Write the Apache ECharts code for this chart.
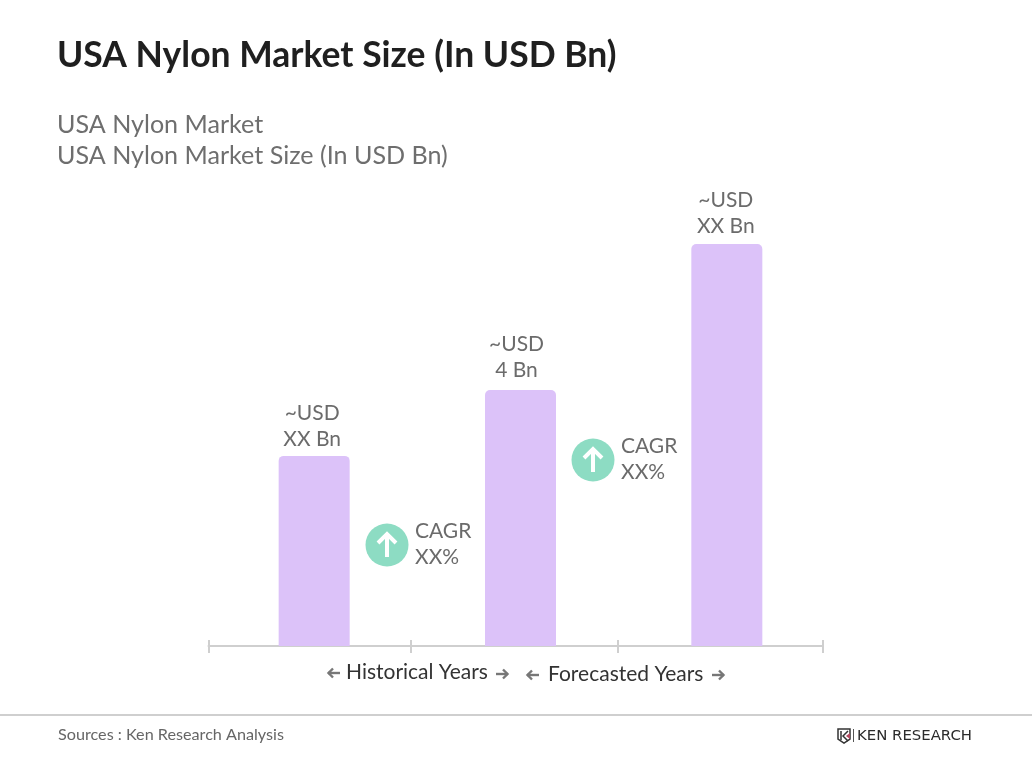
<!DOCTYPE html>
<html>
<head>
<meta charset="utf-8">
<style>html,body{margin:0;padding:0;background:#fff}#main{width:1032px;height:774px}</style>
<script src="https://cdn.jsdelivr.net/npm/echarts@6/dist/echarts.min.js"></script>
</head>
<body>
<div id="main"></div>
<script>
var categories = ['A', 'B', 'C'];
var values = [2.97, 4, 6.28];
var barLabels = ['~USD\nXX Bn', '~USD\n4 Bn', '~USD\nXX Bn'];
var cagrLabels = ['CAGR\nXX%', 'CAGR\nXX%'];
var tickStops = [0, 202.5, 409, 614.5];

var FONT = 'Lato, "Open Sans", sans-serif';
var chart = echarts.init(document.getElementById('main'), null, { renderer: 'canvas' });

// labels do not sit exactly centred over the bars in the original
var labelOffsets = [[-2, 3], [-4, 0], [-1, 2]];

// arrow-up badge next to the bars
function cagrBadge(cx, cy, label) {
    return [
        { type: 'circle', shape: { cx: cx, cy: cy, r: 21.5 }, style: { fill: '#8ddcc3' } },
        { type: 'polyline', shape: { points: [[cx, cy + 12], [cx, cy - 11]] }, style: { stroke: '#fff', lineWidth: 4, fill: null } },
        { type: 'polyline', shape: { points: [[cx - 9, cy - 2], [cx, cy - 11], [cx + 9, cy - 2]] }, style: { stroke: '#fff', lineWidth: 4, fill: null } },
        { type: 'text', x: cx + 28, y: cy - 27, style: { text: label, font: '21px ' + FONT, fill: '#6b6b6b', lineHeight: 26 } }
    ];
}

function flatText(x, y, text, font, color) {
    return { type: 'text', x: x, y: y, style: { text: text, font: font, fill: color, textVerticalAlign: 'middle' } };
}

// small grey arrow, dir -1 points left and 1 points right
function arrow(cx, y, dir) {
    return [
        { type: 'line', shape: { x1: cx - 6, y1: y, x2: cx + 6, y2: y }, style: { stroke: '#777', lineWidth: 2.4 } },
        { type: 'polyline', shape: { points: [[cx + dir * 1, y - 4.5], [cx + dir * 5.5, y], [cx + dir * 1, y + 4.5]] }, style: { stroke: '#777', lineWidth: 2.4, fill: null } }
    ];
}

var graphics = [
    flatText(57, 56, 'USA Nylon Market Size (In USD Bn)', 'bold 35.5px ' + FONT, '#1f1f1f'),
    flatText(57, 125, 'USA Nylon Market', '25.1px ' + FONT, '#6e6e6e'),
    flatText(57, 156, 'USA Nylon Market Size (In USD Bn)', '25.1px ' + FONT, '#6e6e6e'),
    flatText(346, 672, 'Historical Years', '21px ' + FONT, '#333'),
    flatText(548, 674, 'Forecasted Years', '21px ' + FONT, '#333'),
    { type: 'rect', shape: { x: 0, y: 714, width: 1032, height: 2 }, style: { fill: '#cfcfcf' } },
    flatText(58, 735, 'Sources : Ken Research Analysis', '16.2px ' + FONT, '#666'),
    // logo
    { type: 'polygon', shape: { points: [[838, 729], [850, 729], [850, 739], [844, 743], [838, 739]] }, style: { fill: '#fff', stroke: '#333', lineWidth: 1.5 } },
    { type: 'polyline', shape: { points: [[841, 731], [841, 740]] }, style: { stroke: '#333', lineWidth: 1.5, fill: null } },
    { type: 'polyline', shape: { points: [[848, 731], [843, 736], [848, 741]] }, style: { stroke: '#333', lineWidth: 1.5, fill: null } },
    { type: 'polygon', shape: { points: [[850, 733], [846, 736], [850, 739]] }, style: { fill: '#b5475f' } },
    { type: 'rect', shape: { x: 853, y: 729, width: 1, height: 13 }, style: { fill: '#555' } },
    flatText(857, 736, 'KEN RESEARCH', '14.9px "DejaVu Sans"', '#2b2b2b')
];
graphics = graphics.concat(
    arrow(334, 673, -1), arrow(502, 674, 1), arrow(533, 675, -1), arrow(718, 675, 1),
    cagrBadge(387, 545, cagrLabels[0]), cagrBadge(593, 460, cagrLabels[1])
);

function tickAxis(inside, len, lineShown) {
    return {
        type: 'value', gridIndex: 0, position: 'bottom', min: 0, max: 614.5,
        splitLine: { show: false },
        axisLine: { show: lineShown, lineStyle: { color: '#cfcfcf', width: 2 } },
        axisTick: { show: true, inside: inside, length: len, customValues: tickStops, lineStyle: { color: '#cfcfcf', width: 2 } },
        axisLabel: { show: true, customValues: tickStops, color: 'transparent', fontSize: 1 }
    };
}

chart.setOption({
    animation: false,
    backgroundColor: '#fff',
    grid: [
        { left: 208.5, right: 209, top: 196, bottom: 128 },
        { left: 211, right: 202, top: 196, bottom: 128 }
    ],
    xAxis: [
        tickAxis(false, 7, true),
        tickAxis(true, 6, false),
        { type: 'category', data: categories, gridIndex: 1, show: false }
    ],
    yAxis: [
        { type: 'value', min: 0, max: 7.03, show: false, gridIndex: 0 },
        { type: 'value', min: 0, max: 7.03, show: false, gridIndex: 1 }
    ],
    series: [{
        type: 'bar', barWidth: 71, xAxisIndex: 2, yAxisIndex: 1,
        data: values.map(function (v, i) {
            return { value: v, label: { formatter: barLabels[i], offset: labelOffsets[i] } };
        }),
        itemStyle: { color: '#dcc2f9', borderRadius: [5, 5, 0, 0] },
        label: { show: true, position: 'top', distance: 7, fontFamily: FONT, fontSize: 21, color: '#6b6b6b', lineHeight: 26, align: 'center' }
    }],
    graphic: graphics
});
</script>
</body>
</html>
